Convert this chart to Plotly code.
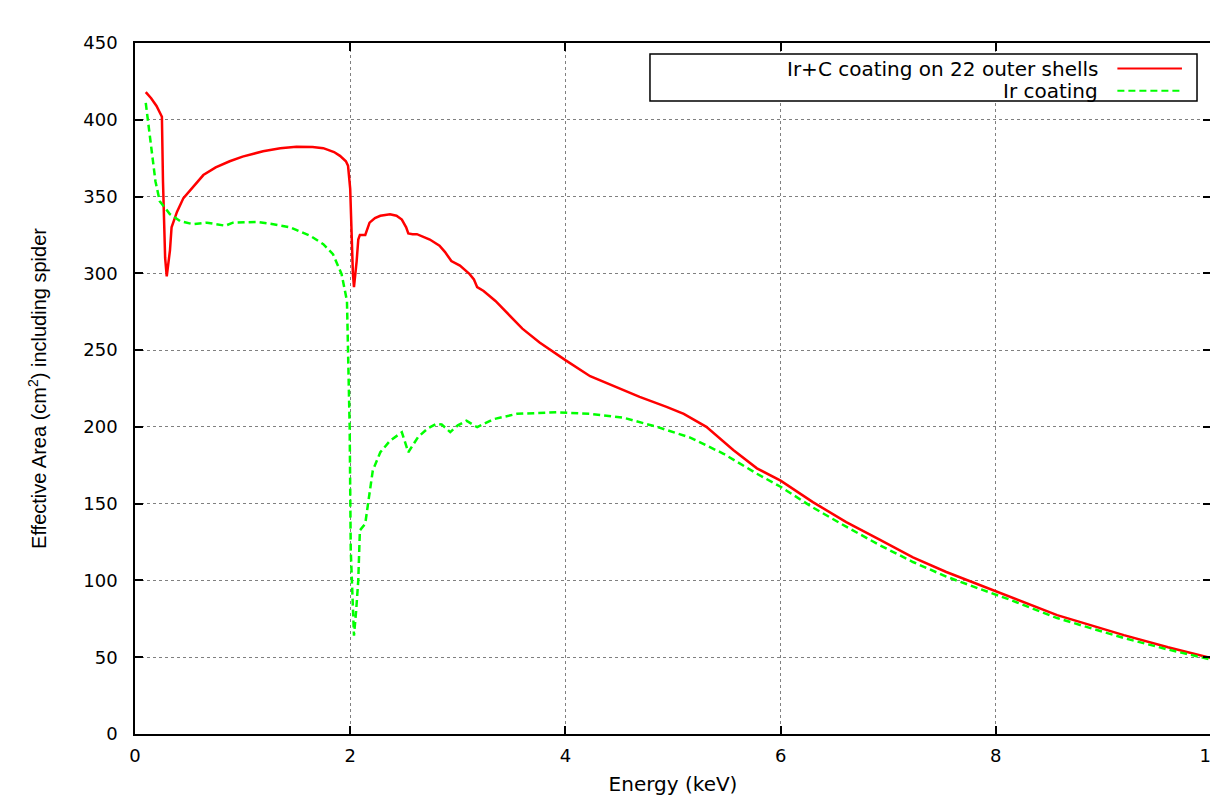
import plotly.graph_objects as go

# ---------------- data ----------------
red_name = "Ir+C coating on 22 outer shells"
red_x = [0.10, 0.15, 0.20, 0.25, 0.26, 0.28, 0.295, 0.31, 0.325, 0.34, 0.39, 0.45,
         0.55, 0.635, 0.75, 0.88, 1.0, 1.19, 1.35, 1.50, 1.65, 1.75, 1.85, 1.905,
         1.96, 1.98, 2.0, 2.01, 2.025, 2.035, 2.05, 2.06, 2.075, 2.09, 2.14, 2.18,
         2.23, 2.28, 2.37, 2.43, 2.48, 2.52, 2.54, 2.58, 2.62, 2.68, 2.74, 2.83,
         2.88, 2.94, 3.02, 3.11, 3.15, 3.18, 3.24, 3.35, 3.45, 3.6, 3.76, 3.9, 4.0,
         4.23, 4.46, 4.69, 4.94, 5.10, 5.31, 5.56, 5.78, 6.0, 6.30, 6.61, 6.92,
         7.23, 7.54, 7.85, 8.13, 8.57, 9.19, 9.6, 10.0]
red_y = [418, 414, 409, 402, 360, 310, 298, 305, 315, 330, 340, 349,
         357, 364, 369, 373, 376, 379.5, 381.5, 382.5, 382.3, 381.5, 379, 376.5,
         373, 370, 355, 328, 300, 291, 300, 308, 322, 325, 325, 333,
         336, 337.5, 338.5, 337.5, 335, 330, 326, 325.5, 325.5, 324, 322, 318,
         314, 308, 305, 299.5, 296, 291, 288.5, 282, 274.6, 264, 255, 248, 243.5,
         233, 226, 219.5, 213, 208.5, 200, 185, 173, 165, 151, 138, 126.6,
         115, 105.5, 97, 89.7, 77.4, 64.4, 56.5, 49.5]

green_name = "Ir coating"
green_x = [0.10, 0.14, 0.19, 0.23, 0.325, 0.42, 0.54, 0.67, 0.78, 0.84, 0.91, 1.13,
           1.285, 1.44, 1.63, 1.75, 1.84, 1.92, 1.97, 1.995, 2.005, 2.02, 2.035,
           2.055, 2.075, 2.09, 2.14, 2.17, 2.21, 2.28, 2.37, 2.48, 2.54, 2.63,
           2.72, 2.80, 2.85, 2.93, 3.00, 3.08, 3.18, 3.33, 3.55, 3.75, 3.92, 4.23,
           4.54, 4.85, 5.16, 5.47, 5.78, 6.0, 6.30, 6.61, 6.92, 7.23, 7.54, 7.85,
           8.13, 8.57, 9.19, 9.6, 10.0]
green_y = [411, 388, 360, 347, 338.5, 334, 332, 333, 331.5, 331, 333, 333.5,
           332, 330, 324.4, 319, 312.5, 299.5, 282, 200, 120, 85, 64,
           80, 100, 132.6, 137, 152, 171.6, 183.5, 191, 196.5, 183.5, 193.3,
           199, 202, 201.6, 196.6, 201, 204, 199.8, 205, 208.5, 209, 209.5, 208.5,
           206, 200, 193, 182.5, 169.5, 161, 147.5, 135, 123, 112, 102.5, 94.5,
           87.5, 75.5, 62.5, 55, 48.5]

x_ticks = [0, 2, 4, 6, 8, 10]
y_ticks = [0, 50, 100, 150, 200, 250, 300, 350, 400, 450]

# ---------------- styles ----------------
series = [
    dict(name=red_name, x=red_x, y=red_y, color="#ff0000", dash="solid"),
    dict(name=green_name, x=green_x, y=green_y, color="#00ff00", dash="7px,4px"),
]

fig = go.Figure()
for s in series:
    fig.add_trace(go.Scatter(x=s["x"], y=s["y"], mode="lines", name=s["name"],
                             line=dict(color=s["color"], width=2.5, dash=s["dash"]),
                             showlegend=False))

tick_font = dict(family="DejaVu Sans", size=18, color="black")
axis_common = dict(showline=True, linecolor="black", linewidth=1.5, mirror="ticks",
                   ticks="inside", ticklen=8, tickwidth=1.5, tickcolor="black",
                   showgrid=True, gridcolor="#808080", gridwidth=1, griddash="dot",
                   zeroline=False, tickfont=tick_font, automargin=False,
                   ticklabeloverflow="allow")

fig.update_xaxes(range=[0, 10], tickvals=x_ticks, ticktext=[str(v) for v in x_ticks],
                 ticklabelstandoff=5,
                 title=dict(text="Energy (keV)", standoff=12,
                            font=dict(family="DejaVu Sans", size=20, color="black")),
                 **axis_common)
fig.update_yaxes(range=[0, 450], tickvals=y_ticks, ticktext=[str(v) for v in y_ticks],
                 ticklabelstandoff=12,
                 title=dict(text="Effective Area (cm<sup>2</sup>) including spider", standoff=31,
                            font=dict(family="Liberation Sans", size=20, color="black")),
                 **axis_common)

# ---------------- custom legend (text left of sample line, gnuplot style) ----------------
shapes = [dict(type="rect", xref="paper", yref="paper", x0=0.4786, x1=0.987, y0=0.916, y1=0.984,
               line=dict(color="black", width=1.5), fillcolor="white", layer="above")]
annotations = []
row_y = [0.963, 0.931]
for s, yy in zip(series, row_y):
    shapes.append(dict(type="line", xref="paper", yref="paper", x0=0.913, x1=0.973, y0=yy, y1=yy,
                       line=dict(color=s["color"], width=2, dash=s["dash"]), layer="above"))
    annotations.append(dict(xref="paper", yref="paper", x=0.897, y=yy, xanchor="right",
                            yanchor="middle", showarrow=False, text=s["name"],
                            font=dict(family="DejaVu Sans", size=20, color="black")))

# the page body adds an 8px offset, so the figure is sized/margined to land the plot
# area at the same window position as the reference
fig.update_layout(width=1210, height=800, margin=dict(l=127, r=7, t=35, b=74),
                  paper_bgcolor="white", plot_bgcolor="white",
                  shapes=shapes, annotations=annotations, showlegend=False)

fig.write_html("out.html")
